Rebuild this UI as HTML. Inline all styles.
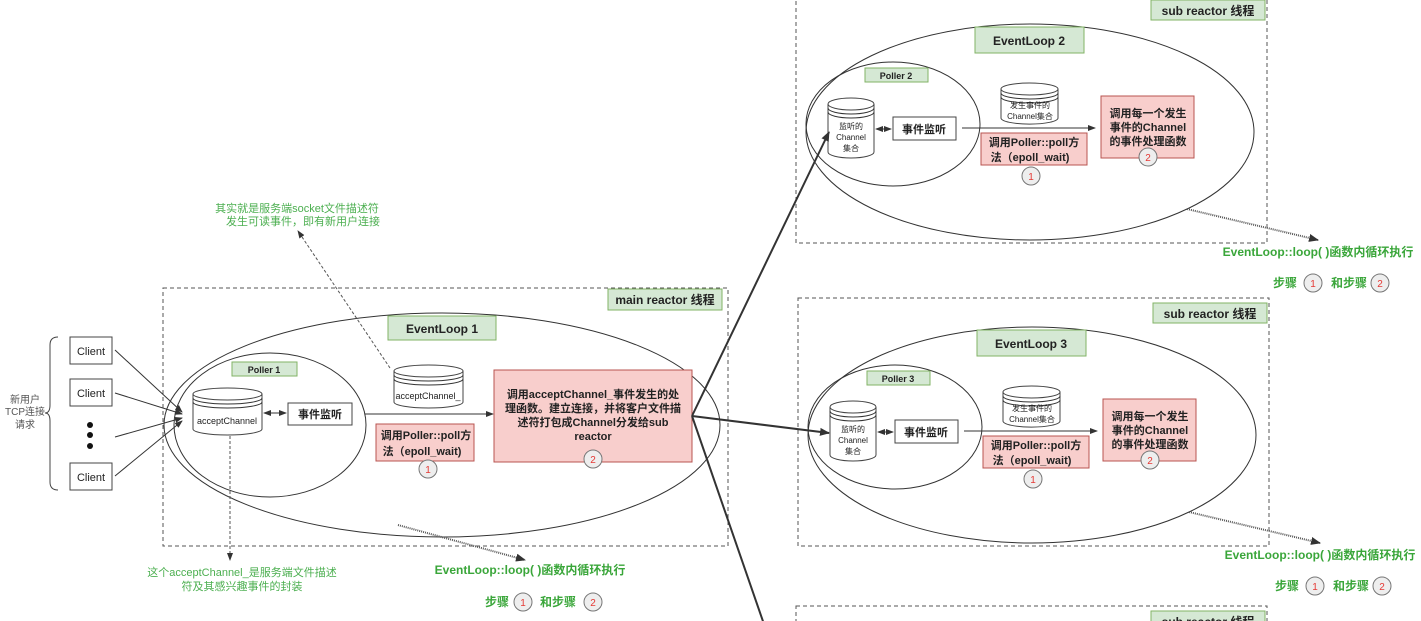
<!DOCTYPE html>
<html><head><meta charset="utf-8"><style>
html,body{margin:0;padding:0;background:#fff;overflow:hidden;width:1421px;height:621px;}
svg{display:block;font-family:"Liberation Sans","Noto Sans CJK SC",sans-serif;}
.g{fill:#d5e8d4;stroke:#82b366;stroke-width:1}
.p{fill:#f8cecc;stroke:#b85450;stroke-width:1}
.w{fill:#fff;stroke:#444;stroke-width:1}
.dash{fill:none;stroke:#555;stroke-dasharray:4 3;stroke-width:1}
.el{fill:none;stroke:#333;stroke-width:1}
.t{font-size:11px;fill:#222;text-anchor:middle}
.tb{font-size:12px;font-weight:bold;fill:#222;text-anchor:middle}
.gt{font-size:11px;fill:#4caf50;text-anchor:middle}
.gb{font-size:12px;font-weight:bold;fill:#3aa63a;text-anchor:middle}
.cn{font-size:10px;fill:#e53935;text-anchor:middle}
.cc{fill:#eee;stroke:#777}
</style></head><body>
<svg width="1421" height="621" viewBox="0 0 1421 621" xmlns="http://www.w3.org/2000/svg">
<defs>
<marker id="a" markerWidth="8" markerHeight="8" refX="7" refY="4" orient="auto" markerUnits="userSpaceOnUse"><path d="M0,1 L8,4 L0,7 z" fill="#333"/></marker>
<marker id="ab" markerWidth="10" markerHeight="10" refX="9" refY="5" orient="auto" markerUnits="userSpaceOnUse"><path d="M0,1 L10,5 L0,9 z" fill="#333"/></marker>
<marker id="as" markerWidth="8" markerHeight="8" refX="1" refY="4" orient="auto" markerUnits="userSpaceOnUse"><path d="M8,1 L0,4 L8,7 z" fill="#333"/></marker>
<g id="subbase">
<rect x="796" y="-5" width="471" height="248" class="dash"/>
<rect x="1151" y="0" width="114" height="20" class="g"/>
<text x="1208" y="15" class="tb">sub reactor 线程</text>
<ellipse cx="1030" cy="132" rx="224" ry="108" class="el"/>
<ellipse cx="893" cy="124" rx="87" ry="62" class="el"/>
<path d="M828,104 L828,152 A23,6 0 0 0 874,152 L874,104" class="w"/>
<ellipse cx="851" cy="104" rx="23" ry="6" class="w"/>
<path d="M828,108 A23,6 0 0 0 874,108 M828,112 A23,6 0 0 0 874,112" class="el"/>
<text x="851" y="129" class="t" style="font-size:8px">监听的</text>
<text x="851" y="140" class="t" style="font-size:8px">Channel</text>
<text x="851" y="151" class="t" style="font-size:8px">集合</text>
<line x1="876" y1="129" x2="891" y2="129" stroke="#333" marker-end="url(#a)" marker-start="url(#as)"/>
<rect x="893" y="117" width="63" height="23" class="w"/>
<text x="924" y="133" class="tb" style="font-size:11px">事件监听</text>
<line x1="962" y1="128" x2="1095" y2="128" stroke="#333" marker-end="url(#a)"/>
<path d="M1001,89 L1001,118 A28,6 0 0 0 1058,118 L1058,89" class="w"/>
<ellipse cx="1029.5" cy="89" rx="28.5" ry="6" class="w"/>
<path d="M1001,93 A28.5,6 0 0 0 1058,93 M1001,97 A28.5,6 0 0 0 1058,97" class="el"/>
<text x="1030" y="108" class="t" style="font-size:8px">发生事件的</text>
<text x="1030" y="119" class="t" style="font-size:8px">Channel集合</text>
<rect x="981" y="133" width="106" height="32" class="p"/>
<text x="1034" y="146" class="tb" style="font-size:11px">调用Poller::poll方</text>
<text x="1030" y="161" class="tb" style="font-size:11px">法（epoll_wait)</text>
<circle cx="1031" cy="176" r="9" class="cc"/><text x="1031" y="180" class="cn">1</text>
<rect x="1101" y="96" width="93" height="62" class="p"/>
<text x="1148" y="117" class="tb" style="font-size:11px">调用每一个发生</text>
<text x="1148" y="131" class="tb" style="font-size:11px">事件的Channel</text>
<text x="1148" y="145" class="tb" style="font-size:11px">的事件处理函数</text>
<circle cx="1148" cy="157" r="9" class="cc"/><text x="1148" y="161" class="cn">2</text>
<line x1="1187" y1="209" x2="1318" y2="240" stroke="#555" stroke-width="2" stroke-dasharray="1 1" marker-end="url(#ab)"/>
<text x="1318" y="256" class="gb">EventLoop::loop( )函数内循环执行</text>
<text x="1285" y="287" class="gb">步骤</text>
<circle cx="1313" cy="283" r="9" class="cc"/><text x="1313" y="287" class="cn">1</text>
<text x="1349" y="287" class="gb">和步骤</text>
<circle cx="1380" cy="283" r="9" class="cc"/><text x="1380" y="287" class="cn">2</text>
</g>
</defs>
<!-- sub 2 -->
<use href="#subbase"/>
<rect x="975" y="27" width="109" height="26" class="g"/>
<text x="1029" y="45" class="tb">EventLoop 2</text>
<rect x="865" y="68" width="63" height="14" class="g"/>
<text x="896" y="79" class="t" style="font-size:9px;font-weight:bold">Poller 2</text>
<!-- sub 3 -->
<g transform="translate(2,303)">
<use href="#subbase"/>
<rect x="975" y="27" width="109" height="26" class="g"/>
<text x="1029" y="45" class="tb">EventLoop 3</text>
<rect x="865" y="68" width="63" height="14" class="g"/>
<text x="896" y="79" class="t" style="font-size:9px;font-weight:bold">Poller 3</text>
</g>
<!-- sub 4 partial -->
<g transform="translate(0,611)"><use href="#subbase"/></g>

<!-- main reactor -->
<rect x="163" y="288" width="565" height="258" class="dash"/>
<rect x="608" y="289" width="114" height="21" class="g"/>
<text x="665" y="304" class="tb">main reactor 线程</text>
<ellipse cx="442" cy="425" rx="278" ry="112" class="el"/>
<rect x="388" y="316" width="108" height="24" class="g"/>
<text x="442" y="333" class="tb">EventLoop 1</text>
<ellipse cx="270" cy="425" rx="96" ry="72" class="el"/>
<rect x="232" y="362" width="65" height="14" class="g"/>
<text x="264" y="373" class="t" style="font-size:9px;font-weight:bold">Poller 1</text>
<path d="M193,394 L193,429 A34.5,6 0 0 0 262,429 L262,394" class="w"/>
<ellipse cx="227.5" cy="394" rx="34.5" ry="6" class="w"/>
<path d="M193,398 A34.5,6 0 0 0 262,398 M193,402 A34.5,6 0 0 0 262,402" class="el"/>
<text x="227" y="424" class="t" style="font-size:9px">acceptChannel</text>
<line x1="264" y1="413" x2="286" y2="413" stroke="#333" marker-end="url(#a)" marker-start="url(#as)"/>
<rect x="288" y="403" width="64" height="22" class="w"/>
<text x="320" y="418" class="tb" style="font-size:11px">事件监听</text>
<line x1="365" y1="414" x2="493" y2="414" stroke="#333" marker-end="url(#a)"/>
<path d="M394,371 L394,402 A34.5,6 0 0 0 463,402 L463,371" class="w"/>
<ellipse cx="428.5" cy="371" rx="34.5" ry="6" class="w"/>
<path d="M394,375 A34.5,6 0 0 0 463,375 M394,379 A34.5,6 0 0 0 463,379" class="el"/>
<text x="428" y="399" class="t" style="font-size:9px">acceptChannel_</text>
<rect x="376" y="424" width="98" height="37" class="p"/>
<text x="426" y="439" class="tb" style="font-size:11px">调用Poller::poll方</text>
<text x="422" y="455" class="tb" style="font-size:11px">法（epoll_wait)</text>
<circle cx="428" cy="469" r="9" class="cc"/><text x="428" y="473" class="cn">1</text>
<rect x="494" y="370" width="198" height="92" class="p"/>
<text x="593" y="398" class="tb" style="font-size:11px">调用acceptChannel_事件发生的处</text>
<text x="593" y="412" class="tb" style="font-size:11px">理函数。建立连接，并将客户文件描</text>
<text x="593" y="426" class="tb" style="font-size:11px">述符打包成Channel分发给sub</text>
<text x="593" y="440" class="tb" style="font-size:11px">reactor</text>
<circle cx="593" cy="459" r="9" class="cc"/><text x="593" y="463" class="cn">2</text>

<!-- clients -->
<rect x="70" y="337" width="42" height="27" class="w"/><text x="91" y="355" class="t">Client</text>
<rect x="70" y="379" width="42" height="27" class="w"/><text x="91" y="397" class="t">Client</text>
<rect x="70" y="463" width="42" height="27" class="w"/><text x="91" y="481" class="t">Client</text>
<circle cx="90" cy="425" r="3" fill="#111"/><circle cx="90" cy="435" r="3" fill="#111"/><circle cx="90" cy="446" r="3" fill="#111"/>
<path d="M58,337 Q50,337 50,345 L50,405 Q50,413 45,413 Q50,413 50,421 L50,482 Q50,490 58,490" fill="none" stroke="#444"/>
<text x="25" y="403" class="t" style="font-size:10px;fill:#555">新用户</text>
<text x="25" y="415" class="t" style="font-size:10px;fill:#555">TCP连接</text>
<text x="25" y="428" class="t" style="font-size:10px;fill:#555">请求</text>
<line x1="115" y1="350" x2="182" y2="412" stroke="#333" marker-end="url(#a)"/>
<line x1="115" y1="393" x2="182" y2="414" stroke="#333" marker-end="url(#a)"/>
<line x1="115" y1="437" x2="182" y2="418" stroke="#333" marker-end="url(#a)"/>
<line x1="115" y1="476" x2="182" y2="421" stroke="#333" marker-end="url(#a)"/>

<!-- annotations -->
<line x1="390" y1="368" x2="298" y2="231" stroke="#555" stroke-dasharray="3 2" marker-end="url(#a)"/>
<text x="297" y="212" class="gt">其实就是服务端socket文件描述符</text>
<text x="303" y="225" class="gt">发生可读事件，即有新用户连接</text>
<line x1="230" y1="436" x2="230" y2="560" stroke="#555" stroke-dasharray="3 2" marker-end="url(#a)"/>
<text x="242" y="576" class="gt">这个acceptChannel_是服务端文件描述</text>
<text x="242" y="590" class="gt">符及其感兴趣事件的封装</text>
<line x1="398" y1="525" x2="525" y2="560" stroke="#555" stroke-width="2" stroke-dasharray="1 1" marker-end="url(#ab)"/>
<text x="530" y="574" class="gb">EventLoop::loop( )函数内循环执行</text>
<text x="497" y="606" class="gb">步骤</text>
<circle cx="523" cy="602" r="9" class="cc"/><text x="523" y="606" class="cn">1</text>
<text x="558" y="606" class="gb">和步骤</text>
<circle cx="593" cy="602" r="9" class="cc"/><text x="593" y="606" class="cn">2</text>

<!-- dispatch arrows -->
<line x1="692" y1="416" x2="829" y2="132" stroke="#333" stroke-width="2" marker-end="url(#ab)"/>
<line x1="692" y1="416" x2="829" y2="433" stroke="#333" stroke-width="2" marker-end="url(#ab)"/>
<line x1="692" y1="416" x2="766" y2="630" stroke="#333" stroke-width="2"/>
</svg>
</body></html>
